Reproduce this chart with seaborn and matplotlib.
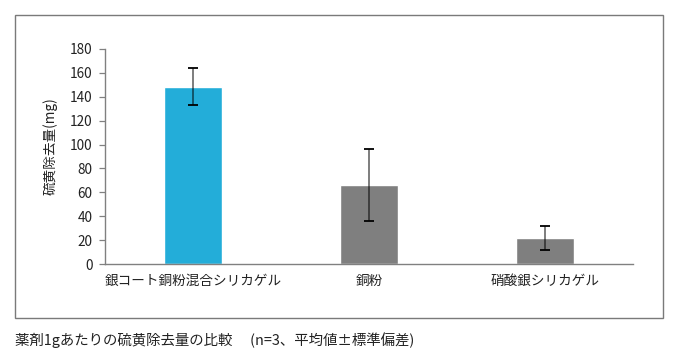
import matplotlib
matplotlib.use("Agg")
import matplotlib.pyplot as plt
import seaborn as sns
import pandas as pd
from matplotlib.patches import Rectangle

categories = ["銀コート銅粉混合シリカゲル", "銅粉", "硝酸銀シリカゲル"]
means = [148.5, 66.0, 21.5]
sds = [15.5, 30.0, 10.0]
colors = ["#23ADD9", "#7F7F7F", "#7F7F7F"]
yticks = [0, 20, 40, 60, 80, 100, 120, 140, 160, 180]
ylabel = "硫黄除去量(mg)"
caption = "薬剤1gあたりの硫黄除去量の比較　 (n=3、平均値±標準偏差)"

sns.set_theme(style="white")
plt.rcParams["font.family"] = ["Noto Sans CJK JP", "DejaVu Sans"]

df = pd.DataFrame({"cat": categories, "val": means})

fig = plt.figure(figsize=(6.78, 3.59), dpi=100)
ax = fig.add_axes([105/678, 1-264/359, 528/678, 215/359])

sns.barplot(data=df, x="cat", y="val", hue="cat", palette=colors,
            width=0.325, saturation=1, legend=False, ax=ax, errorbar=None)

xs = list(range(len(categories)))
ax.errorbar(xs, means, yerr=sds, fmt="none", ecolor="black", elinewidth=1.3,
            capsize=3.5, capthick=1.3, alpha=1.0, zorder=3)
for coll in ax.collections:
    coll.set_alpha(0.55)

ax.set_ylim(0, 180)
ax.set_xlim(-0.5, 2.5)
ax.set_yticks(yticks)
ax.set_yticklabels([str(t) for t in yticks], fontsize=9.8, color="#222222")
ax.set_xlabel("")
ax.set_ylabel(ylabel, fontsize=9.8, color="#222222")
ax.yaxis.set_label_coords(-0.089, 0.547)
ax.tick_params(axis="x", length=0, pad=7, labelsize=9.8, labelcolor="#222222")
ax.tick_params(axis="y", left=True, length=4, width=0.9, color="#808080", pad=5)
for s in ["top", "right"]:
    ax.spines[s].set_visible(False)
for s in ["left", "bottom"]:
    ax.spines[s].set_color("#808080")
    ax.spines[s].set_linewidth(1.0)

fig.patches.append(Rectangle((15/678, 1-318/359), 648/678, 303/359,
                             transform=fig.transFigure, fill=False,
                             edgecolor="#7a7a7a", linewidth=1.0))
fig.text(15/678, 1-340/359, caption, fontsize=10.4, color="#222222",
         ha="left", va="center")

fig.savefig("out.png", dpi=100)
